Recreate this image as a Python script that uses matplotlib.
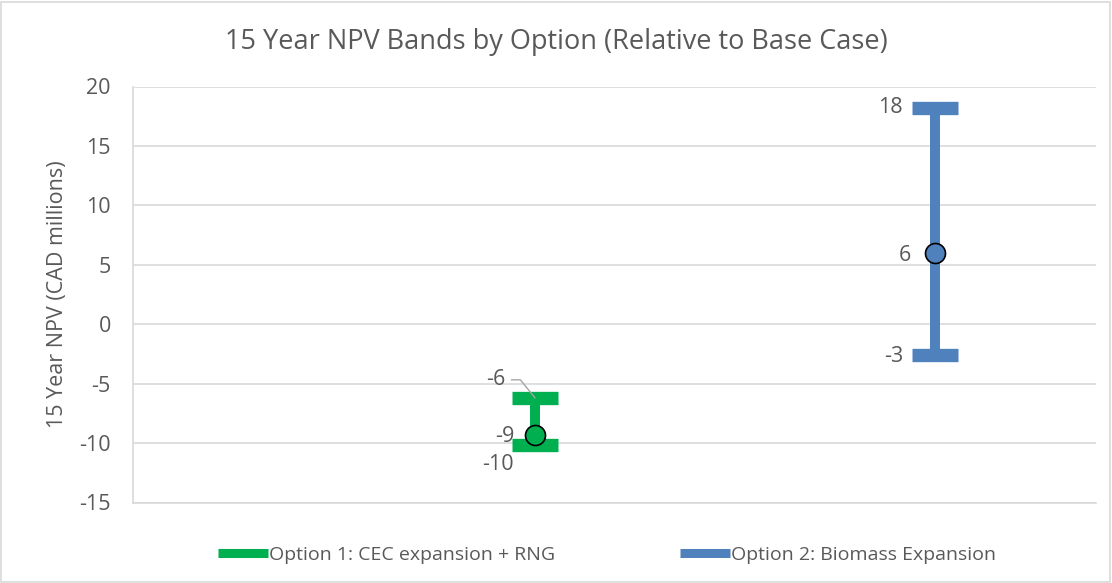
import matplotlib
matplotlib.use('Agg')
import matplotlib.pyplot as plt
from matplotlib.lines import Line2D
from matplotlib.patches import Rectangle

plt.rcParams['font.family'] = ['Open Sans', 'DejaVu Sans']
plt.rcParams['axes.unicode_minus'] = False

# NPV bands, CAD millions
options = ['Option 1: CEC expansion + RNG', 'Option 2: Biomass Expansion']
x_pos = [1, 2]
npv_low = [-10.2, -2.6]
npv_mid = [-9.3, 6.0]
npv_high = [-6.2, 18.2]
colors = ['#00B050', '#4F81BD']

y_ticks = [-15, -10, -5, 0, 5, 10, 15, 20]

text_col = '#595959'
grid_col = '#D9D9D9'

fig = plt.figure(figsize=(11.12, 5.83), dpi=100)
ax = fig.add_axes([133 / 1112, 1 - 502.5 / 583, (1096 - 133) / 1112, 416 / 583])

for i in range(len(options)):
    mid = npv_mid[i]
    ax.errorbar(x_pos[i], mid, yerr=[[mid - npv_low[i]], [npv_high[i] - mid]],
                fmt='none', ecolor=colors[i], elinewidth=7.2,
                capsize=16.5, capthick=9.6, zorder=3)
    ax.plot(x_pos[i], mid, 'o', ms=14.4, mfc=colors[i], mec='black', mew=1.2, zorder=4)

# value labels
lbl = dict(fontsize=15.5, color=text_col, textcoords='offset points', va='center', ha='right')
ax.annotate(f'{npv_high[0]:.0f}', xy=(x_pos[0], npv_high[0]), xytext=(-21, 13), **lbl,
            arrowprops=dict(arrowstyle='-', color='#A6A6A6', lw=1, shrinkA=2, shrinkB=0,
                            relpos=(1, 0.5),
                            connectionstyle='angle,angleA=0,angleB=129,rad=0'))
ax.annotate(f'{npv_mid[0]:.0f}', xy=(x_pos[0], npv_mid[0]), xytext=(-15, -1), **lbl)
ax.annotate(f'{npv_low[0]:.0f}', xy=(x_pos[0], npv_low[0]), xytext=(-15, -14), **lbl)
ax.annotate(f'{npv_high[1]:.0f}', xy=(x_pos[1], npv_high[1]), xytext=(-23, 0), **lbl)
ax.annotate(f'{npv_mid[1]:.0f}', xy=(x_pos[1], npv_mid[1]), xytext=(-17, -2), **lbl)
ax.annotate(f'{npv_low[1]:.0f}', xy=(x_pos[1], npv_low[1]), xytext=(-23, -1), **lbl)

ax.set_xlim(-0.005, 2.4025)
ax.set_ylim(-15, 20)
ax.set_yticks(y_ticks)
ax.set_xticks([])
ax.yaxis.grid(True, color=grid_col, lw=1.2)
ax.set_axisbelow(True)
ax.tick_params(axis='y', length=0, pad=16, labelsize=15.5, labelcolor=text_col)
for s in ['top', 'right']:
    ax.spines[s].set_visible(False)
for s in ['left', 'bottom']:
    ax.spines[s].set_color(grid_col)
    ax.spines[s].set_linewidth(1.2)

ax.set_ylabel('15 Year NPV (CAD millions)', fontsize=15.5, color=text_col, labelpad=8)

fig.text(0.5, 1 - 42 / 583, '15 Year NPV Bands by Option (Relative to Base Case)',
         ha='center', va='center', fontsize=19.5, color=text_col)

handles = [Line2D([], [], color=c, lw=6.5, solid_capstyle='butt') for c in colors]
fig.legend(handles, options, loc='center', bbox_to_anchor=(0.546, 1 - 555 / 583),
           ncol=2, frameon=False, fontsize=14, labelcolor=text_col,
           handlelength=2.6, handletextpad=0.05, columnspacing=6.4)

# outer chart border
fig.add_artist(Rectangle((0.001, 0.001), 0.997, 0.996, transform=fig.transFigure,
                         fill=False, edgecolor=grid_col, lw=1.2))

fig.savefig('out.png', dpi=100)
